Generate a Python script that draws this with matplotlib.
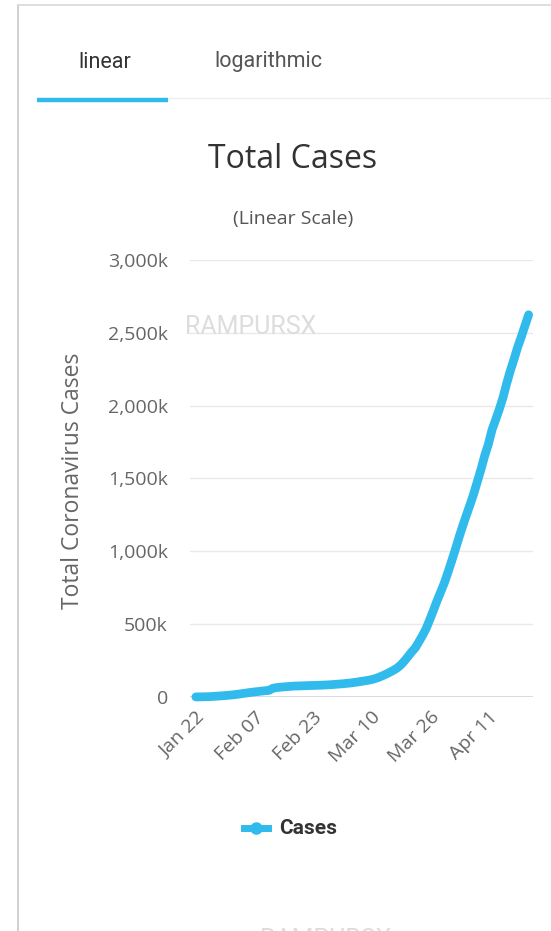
import matplotlib.pyplot as plt
from matplotlib.lines import Line2D
from matplotlib import font_manager
import numpy as np

# total cases per day, Jan 22 .. Apr 22
dates = ["Jan 22", "Jan 23", "Jan 24", "Jan 25", "Jan 26", "Jan 27", "Jan 28", "Jan 29", "Jan 30", "Jan 31",
         "Feb 01", "Feb 02", "Feb 03", "Feb 04", "Feb 05", "Feb 06", "Feb 07", "Feb 08", "Feb 09", "Feb 10",
         "Feb 11", "Feb 12", "Feb 13", "Feb 14", "Feb 15", "Feb 16", "Feb 17", "Feb 18", "Feb 19", "Feb 20",
         "Feb 21", "Feb 22", "Feb 23", "Feb 24", "Feb 25", "Feb 26", "Feb 27", "Feb 28", "Feb 29",
         "Mar 01", "Mar 02", "Mar 03", "Mar 04", "Mar 05", "Mar 06", "Mar 07", "Mar 08", "Mar 09", "Mar 10",
         "Mar 11", "Mar 12", "Mar 13", "Mar 14", "Mar 15", "Mar 16", "Mar 17", "Mar 18", "Mar 19", "Mar 20",
         "Mar 21", "Mar 22", "Mar 23", "Mar 24", "Mar 25", "Mar 26", "Mar 27", "Mar 28", "Mar 29", "Mar 30",
         "Mar 31", "Apr 01", "Apr 02", "Apr 03", "Apr 04", "Apr 05", "Apr 06", "Apr 07", "Apr 08", "Apr 09",
         "Apr 10", "Apr 11", "Apr 12", "Apr 13", "Apr 14", "Apr 15", "Apr 16", "Apr 17", "Apr 18", "Apr 19",
         "Apr 20", "Apr 21", "Apr 22"]
cases = [580, 845, 1317, 2015, 2800, 4581, 6058, 7813, 9823, 11950,
         14553, 17391, 20630, 24545, 28266, 31439, 34876, 37552, 40553, 43099,
         45134, 59287, 64438, 67100, 69197, 71329, 73332, 75184, 75700, 76677,
         77673, 78651, 79205, 80087, 80828, 81820, 83112, 84615, 86604,
         88585, 90443, 93016, 95314, 98425, 102050, 106099, 109991, 114381, 118948,
         126214, 134576, 145483, 156653, 169593, 182490, 198238, 218822, 246088, 277043,
         309156, 336957, 379231, 422574, 471035, 532440, 596723, 663127, 724201, 786428,
         859798, 936851, 1016128, 1098762, 1176410, 1249754, 1321481, 1396476, 1480202, 1565278,
         1657526, 1735650, 1834721, 1904838, 1976191, 2056054, 2152437, 2240190, 2317758, 2401378,
         2472259, 2549123, 2624000]
y_ticks = [0, 500000, 1000000, 1500000, 2000000, 2500000, 3000000]
y_labels = ["0", "500k", "1,000k", "1,500k", "2,000k", "2,500k", "3,000k"]

BLUE = "#31bbec"
W, H = 551, 931

# narrow font for the tabs if we have it
names = {f.name for f in font_manager.fontManager.ttflist}
if "Liberation Sans Narrow" in names:
    NARROW, tab_size, wm_size = "Liberation Sans Narrow", 19, 21
else:
    NARROW, tab_size, wm_size = "Roboto", 15.5, 18

fig = plt.figure(figsize=(W / 100, H / 100), dpi=100)
fig.patch.set_facecolor("white")


def fx(px):
    return px / W


def fy(py):
    return 1 - py / H


# card border
fig.add_artist(Line2D([fx(18), fx(18)], [fy(5), fy(931)], color="#c8c8c8", lw=1.2))
fig.add_artist(Line2D([fx(18), fx(551)], [fy(5), fy(5)], color="#d8d8d8", lw=1.2))

# tabs
fig.text(fx(105), fy(62), "linear", ha="center", va="center", fontsize=tab_size,
         family=NARROW, color="#333333")
fig.text(fx(268), fy(62), "logarithmic", ha="center", va="center", fontsize=tab_size,
         family=NARROW, color="#555555")
fig.add_artist(Line2D([fx(168), fx(551)], [fy(98), fy(98)], color="#eeeeee", lw=1))
fig.add_artist(Line2D([fx(37), fx(168)], [fy(100), fy(100)], color=BLUE, lw=3.2,
                      solid_capstyle="butt"))

# titles
fig.text(fx(293), fy(160), "Total Cases", ha="center", va="center", fontsize=23,
         family="Open Sans", color="#333333")
fig.text(fx(293), fy(219), "(Linear Scale)", ha="center", va="center", fontsize=14,
         family="Open Sans", color="#555555")

# plot
ax = fig.add_axes([fx(190), fy(697), fx(533) - fx(190), (697 - 260) / H])
x = np.arange(len(cases))
ax.plot(x, cases, color=BLUE, lw=6.3, solid_capstyle="round", solid_joinstyle="round",
        clip_on=False, zorder=3)
ax.set_xlim(-1.6, 92.2)
ax.set_ylim(0, 3000000)
ax.set_yticks(y_ticks)
ax.set_yticklabels(y_labels, family="Open Sans", fontsize=14, color="#666666")
tick_pos = list(range(0, len(dates), 16))
ax.set_xticks(tick_pos)
ax.set_xticklabels([dates[i] for i in tick_pos], rotation=45, ha="right",
                   rotation_mode="anchor", family="Open Sans", fontsize=14, color="#666666")
ax.tick_params(axis="both", length=0)
ax.tick_params(axis="y", pad=16)
ax.tick_params(axis="x", pad=8)
for v in y_ticks[1:]:
    ax.axhline(v, color="#e9e9e9", lw=1, zorder=1)
ax.axhline(0, color="#d0d6e0", lw=1.2, zorder=1)
for s in ax.spines.values():
    s.set_visible(False)
fig.text(fx(73), fy(481), "Total Coronavirus Cases", rotation=90, ha="center", va="center",
         family="Open Sans", fontsize=16.5, color="#666666")

# watermarks
fig.text(fx(185), fy(327), "RAMPURSX", ha="left", va="center", fontsize=wm_size,
         family=NARROW, color="#dddddd", zorder=0)
fig.text(fx(260), fy(940), "RAMPURSX", ha="left", va="center", fontsize=wm_size,
         family=NARROW, color="#dddddd")

# legend
fig.add_artist(Line2D([fx(244), fx(268)], [fy(828), fy(828)], color=BLUE, lw=5))
fig.add_artist(Line2D([fx(256)], [fy(828)], color=BLUE, marker="o", markersize=8))
fig.text(fx(279), fy(828), "Cases", ha="left", va="center", fontsize=15, fontweight="bold",
         family=NARROW, color="#333333")

fig.savefig("out.png", dpi=100)
